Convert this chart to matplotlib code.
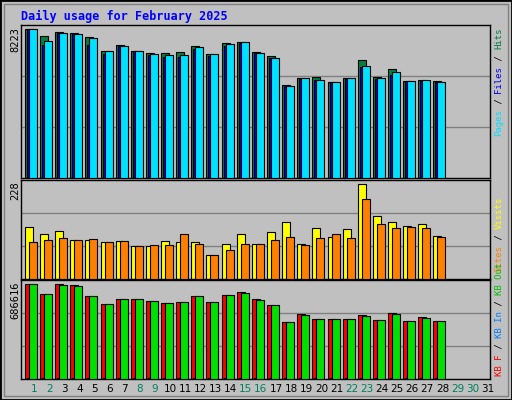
import matplotlib
matplotlib.use("Agg")
import matplotlib.pyplot as plt
from matplotlib.patches import Rectangle

days = list(range(1, 29))
day_labels = [str(d) for d in range(1, 32)]
weekend_days = [1, 2, 8, 9, 15, 16, 22, 23, 29, 30]

hits = [8223, 7837, 8058, 8002, 7782, 7009, 7340, 7009, 6899, 6899, 6954, 7285, 6844, 7451,
        7506, 6954, 6733, 5133, 5519, 5574, 5298, 5519, 6512, 5574, 6016, 5353, 5409, 5353]
files = [8223, 7340, 8002, 7947, 7340, 6844, 7285, 7009, 6788, 6678, 6678, 7120, 6733, 7285,
         7451, 6899, 6623, 5077, 5464, 5409, 5298, 5464, 6126, 5464, 5685, 5353, 5353, 5298]
pages = [8223, 7561, 8002, 7947, 7727, 7009, 7285, 7009, 6844, 6788, 6788, 7230, 6844, 7396,
         7506, 6899, 6623, 5077, 5519, 5409, 5298, 5519, 6181, 5519, 5850, 5353, 5409, 5298]
visits = [125, 108, 115, 94, 94, 89, 91, 79, 79, 91, 89, 89, 58, 84,
          108, 84, 113, 137, 84, 122, 101, 120, 228, 151, 137, 127, 132, 103]
sites = [89, 94, 98, 94, 96, 89, 91, 79, 82, 82, 108, 84, 58, 70,
         84, 84, 94, 101, 82, 98, 108, 98, 192, 132, 122, 125, 122, 101]
kb_f = [686616, 614380, 686616, 679390, 599920, 542100, 578240, 578240, 563780, 549330, 556560, 599920, 556560, 607150,
        628800, 578240, 534870, 411990, 469820, 433680, 433680, 433680, 462600, 426450, 477050, 419220, 448130, 419220]
kb_in = [5000] * 28
kb_out = [686616, 614380, 679390, 672200, 599920, 542100, 578240, 578240, 563780, 549330, 556560, 599920, 556560, 607150,
          621600, 571000, 534870, 411990, 462600, 433680, 433680, 433680, 455360, 426450, 469820, 419220, 440900, 419220]

W, H = 512, 400
BG = "#C0C0C0"
fig = plt.figure(figsize=(W / 100, H / 100), dpi=100, facecolor=BG)
fig.patches.append(Rectangle((0, 0), 1, 1, transform=fig.transFigure, fill=False, ec="black", lw=2))
fig.patches.append(Rectangle((4 / W, 4 / H), (W - 8) / W, (H - 8) / H, transform=fig.transFigure,
                             fill=False, ec="#808080", lw=1))

mono = "DejaVu Sans Mono"
fig.text(21 / W, 1 - 16 / H, "Daily usage for February 2025", color="#0000FF", fontsize=8.5,
         family=mono, fontweight="bold", va="center", ha="left")

x0, x1 = 21, 490
ppu = (x1 - x0) / 31
xlo = 1 - (34 - x0) / ppu
bw = 8 / ppu
off = 2 / ppu


def panel(top, bottom):
    ax = fig.add_axes([x0 / W, 1 - bottom / H, (x1 - x0) / W, (bottom - top) / H])
    ax.set_facecolor(BG)
    ax.set_xlim(xlo, xlo + 31)
    ax.set_xticks([])
    ax.set_yticks([])
    for s in ax.spines.values():
        s.set_color("black")
        s.set_linewidth(1)
    return ax


def grid(ax, top):
    for f in (1 / 3, 2 / 3):
        ax.axhline(top * f, color="#808080", lw=1, zorder=0)


# Panel 1
ax1 = panel(25, 178)
t1 = 8223 * 153 / 149
ax1.set_ylim(0, t1)
grid(ax1, t1)
for d, h, f, p in zip(days, hits, files, pages):
    b = d - 0.6
    ax1.bar(b, h, width=bw, align="edge", color="#008040", ec="black", lw=0.8, zorder=2)
    ax1.bar(b + off, f, width=bw, align="edge", color="#0000FF", ec="black", lw=0.8, zorder=3)
    ax1.bar(b + 2 * off, p, width=bw, align="edge", color="#00E0FF", ec="black", lw=0.8, zorder=4)

# Panel 2
ax2 = panel(180, 279)
t2 = 228 * 99 / 95
ax2.set_ylim(0, t2)
grid(ax2, t2)
for d, v, s in zip(days, visits, sites):
    b = d - 0.6
    ax2.bar(b, v, width=bw, align="edge", color="#FFFF00", ec="black", lw=0.8, zorder=2)
    ax2.bar(b + 2 * off, s, width=bw, align="edge", color="#FF8000", ec="black", lw=0.8, zorder=3)

# Panel 3
ax3 = panel(280, 379)
t3 = 686616 * 99 / 95
ax3.set_ylim(0, t3)
grid(ax3, t3)
for d, kf, ki, ko in zip(days, kb_f, kb_in, kb_out):
    b = d - 0.6
    ax3.bar(b, kf, width=bw, align="edge", color="#FF0000", ec="black", lw=0.8, zorder=2)
    ax3.bar(b + off, ki, width=bw, align="edge", color="#0080FF", ec="black", lw=0.8, zorder=3)
    ax3.bar(b + 2 * off, ko, width=bw, align="edge", color="#00E000", ec="black", lw=0.8, zorder=4)

# max labels
for txt, y in (("8223", 40), ("228", 191), ("686616", 300)):
    fig.text(15 / W, 1 - y / H, txt, rotation=90, fontsize=7.5, family=mono, ha="center", va="center")

# day labels
for i, lab in enumerate(day_labels):
    dnum = i + 1
    px = x0 + (dnum - xlo) * ppu
    col = "#00805C" if dnum in weekend_days else "black"
    fig.text(px / W, 1 - 389 / H, lab, color=col, fontsize=7.5, ha="center", va="center")


def right_label(parts, y_bottom):
    y = y_bottom
    fs = 6.5
    cw = 0.6 * fs * 100 / 72
    for txt, col in parts:
        fig.text(499 / W, 1 - y / H, txt, rotation=90, color=col, fontsize=fs, family=mono,
                 ha="center", va="bottom")
        y -= cw * len(txt)


right_label([("Pages", "#00E0FF"), (" / ", "black"), ("Files", "#0000FF"), (" / ", "black"),
             ("Hits", "#008040")], 136)
right_label([("Sites", "#FF8000"), (" / ", "black"), ("Visits", "#FFFF00")], 272)
right_label([("KB F", "#FF0000"), (" / ", "black"), ("KB In", "#0080FF"), (" / ", "black"),
             ("KB Out", "#00C000")], 376)

fig.savefig("out.png", dpi=100, facecolor=BG)
